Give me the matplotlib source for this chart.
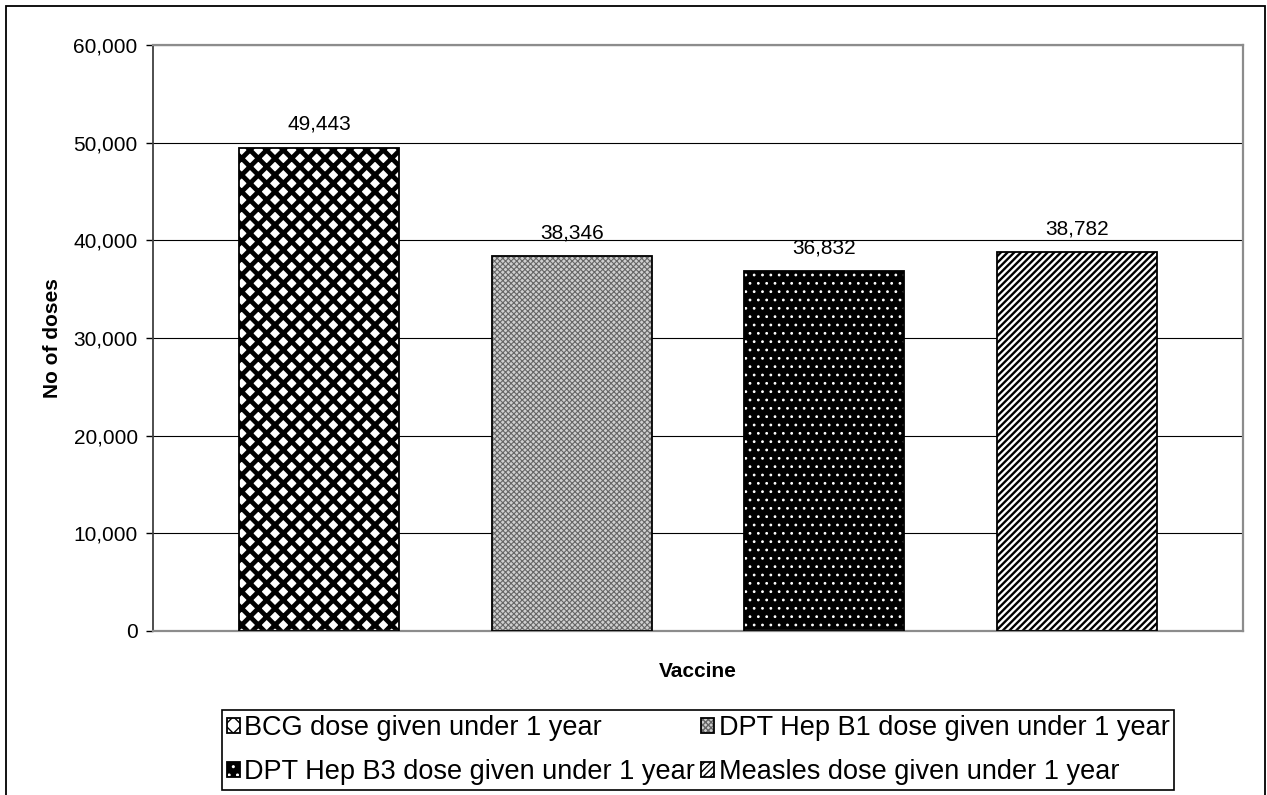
import matplotlib
matplotlib.use('Agg')
import matplotlib.pyplot as plt
from matplotlib.patches import Rectangle
from matplotlib.ticker import FuncFormatter
from matplotlib.legend_handler import HandlerTuple

plt.rcParams['font.family'] = 'Liberation Sans'

vaccines = ['BCG dose given under 1 year',
            'DPT Hep B1 dose given under 1 year',
            'DPT Hep B3 dose given under 1 year',
            'Measles dose given under 1 year']
doses = [49443, 38346, 36832, 38782]
yticks = [0, 10000, 20000, 30000, 40000, 50000, 60000]

# fill pattern for each bar: face colour, hatch, hatch colour, hatch width
styles = [
    ('white', 'xx', 'black', 3.4),
    ('#cfcfcf', 'xxxxxx', '#666666', 0.8),
    ('black', '..', 'white', 0.8),
    ('white', '/////', 'black', 1.7),
]

fig = plt.figure(figsize=(12.67, 7.95), dpi=100)
ax = fig.add_axes([153 / 1267, 1 - 631 / 795, 1090 / 1267, 586 / 795])

handles = []
for i, (val, (fc, hatch, hc, hlw)) in enumerate(zip(doses, styles)):
    with plt.rc_context({'hatch.linewidth': hlw}):
        fill = ax.bar(i, val, width=0.633, color=fc, hatch=hatch,
                      edgecolor=hc, linewidth=0, zorder=2)[0]
        if hasattr(fill, 'set_hatch_linewidth'):
            fill.set_hatch_linewidth(hlw)
    edge = ax.bar(i, val, width=0.633, fill=False, edgecolor='black',
                  linewidth=1.3, zorder=3)[0]
    handles.append((fill, edge))
    ax.text(i, val + 1450, f'{val:,}', ha='center', va='bottom', fontsize=15)

ax.set_xlim(-0.657, 3.657)
ax.set_ylim(0, 60000)
ax.set_yticks(yticks)
ax.yaxis.set_major_formatter(FuncFormatter(lambda v, p: f'{v:,.0f}'))
ax.set_xticks([])
ax.tick_params(axis='y', length=5, width=1, color='black', labelsize=15, pad=6)
ax.grid(axis='y', color='black', linewidth=0.8)
ax.set_axisbelow(True)

for side in ['top', 'right', 'bottom']:
    ax.spines[side].set_color('#8c8c8c')
    ax.spines[side].set_linewidth(1.6)
ax.spines['left'].set_color('#404040')
ax.spines['left'].set_linewidth(1.3)

ax.set_ylabel('No of doses', fontsize=15, fontweight='bold', labelpad=8)
ax.set_xlabel('Vaccine', fontsize=15, fontweight='bold', labelpad=22)

# legend columns: BCG / DPT3 on the left, DPT1 / Measles on the right
order = [0, 2, 1, 3]
leg = fig.legend([handles[k] for k in order], [vaccines[k] for k in order],
                 handler_map={tuple: HandlerTuple(ndivide=1)},
                 loc='upper center', bbox_to_anchor=(698 / 1267, 1 - 710 / 795),
                 ncol=2, fontsize=19.5, frameon=True, fancybox=False,
                 edgecolor='black', framealpha=1, handlelength=0.48,
                 handleheight=0.48, handletextpad=0.18, columnspacing=0.2,
                 labelspacing=0.68, borderpad=0.18, borderaxespad=0)
leg.get_frame().set_linewidth(1.2)

# outer chart border
fig.patches.append(Rectangle((6 / 1267, -0.05), 1259 / 1267, 0.05 + 1 - 6 / 795,
                             transform=fig.transFigure, fill=False,
                             edgecolor='black', linewidth=1.3))

fig.savefig('out.png', dpi=100)
